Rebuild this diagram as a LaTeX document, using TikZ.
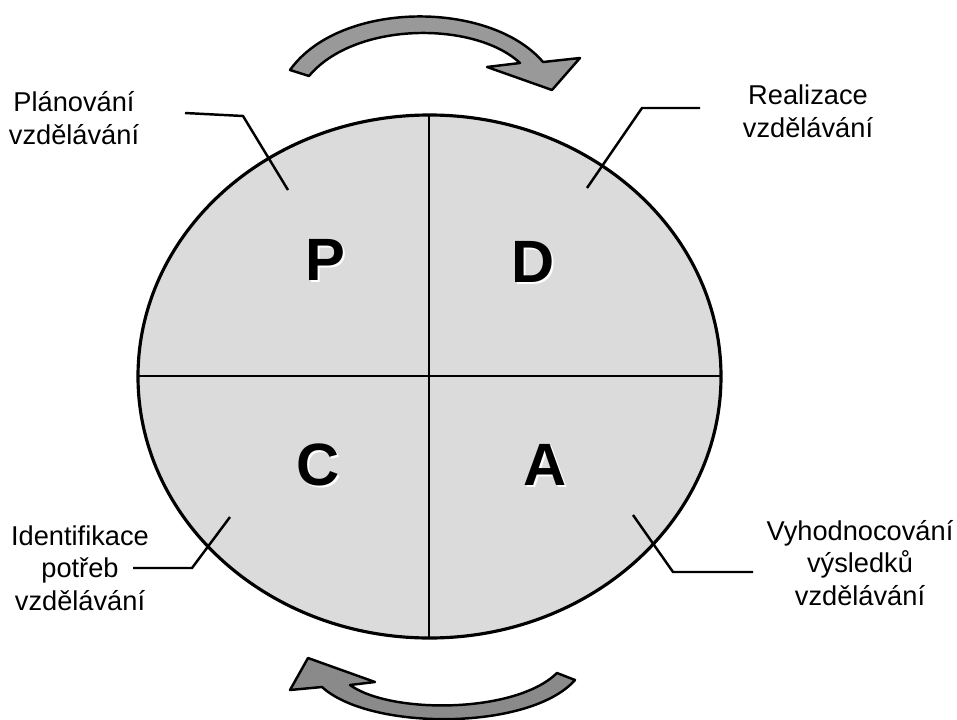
\documentclass[tikz,border=0pt]{standalone}
\usepackage{fontspec}
\setmainfont{Liberation Sans}
\usepackage{xcolor}
\usepackage{tikz}
\usetikzlibrary{positioning}
\usetikzlibrary{arrows,shapes}

\definecolor{quadfill}{gray}{0.86}
\definecolor{arrowtop}{gray}{0.60}
\definecolor{arrowbot}{gray}{0.54}

\tikzset{
  phase/.style={font=\fontsize{34}{40}\selectfont\bfseries, inner sep=0pt},
  phaseshadow/.style={phase, text=white},
  caption/.style={font=\fontsize{15.5}{18.6}\selectfont, align=center, inner sep=0pt},
  leader/.style={line width=1.4pt},
  cyclearrow/.style={line width=1.4pt, line join=round}
}

\begin{document}
\begin{tikzpicture}[x=0.02cm,y=-0.02cm]
   \useasboundingbox (0,0) rectangle (957,720);
   % circle with quadrants
   \draw[fill=quadfill, line width=1.8pt] (429.5,376.5) ellipse (291.5 and 261.5);
   \draw[line width=1.3pt] (138,376) -- (721,376);
   \draw[line width=1.3pt] (429,115) -- (429,638);
   % phase letters
   \node[phaseshadow] at (327,262) {P};
   \node[phase] (p) at (325,260) {P};
   \node[phaseshadow] at (535,264) {D};
   \node[phase] (d) at (533,262) {D};
   \node[phaseshadow] at (320,467) {C};
   \node[phase] (c) at (318,465) {C};
   \node[phaseshadow] at (547,467) {A};
   \node[phase] (a) at (545,465) {A};
   % captions
   \node[caption] (plan) at (74,118) {Plánování\\vzdělávání};
   \node[caption] (real) at (808,111) {Realizace\\vzdělávání};
   \node[caption] (ident) at (80,568) {Identifikace\\potřeb\\vzdělávání};
   \node[caption] (vyhod) at (860,563) {Vyhodnocování\\výsledků\\vzdělávání};
   % leaders
   \coordinate (plan1) at (185,113);
   \coordinate (plan2) at (243,116);
   \coordinate (plan3) at (288,190);
   \coordinate (real1) at (700,108);
   \coordinate (real2) at (642,108);
   \coordinate (real3) at (587,188);
   \coordinate (ident1) at (133,568);
   \coordinate (ident2) at (192,568);
   \coordinate (ident3) at (230,517);
   \coordinate (vyhod1) at (753,572);
   \coordinate (vyhod2) at (673,572);
   \coordinate (vyhod3) at (633,515);
   \draw[leader] (plan1) -- (plan2) -- (plan3);
   \draw[leader] (real1) -- (real2) -- (real3);
   \draw[leader] (ident1) -- (ident2) -- (ident3);
   \draw[leader] (vyhod1) -- (vyhod2) -- (vyhod3);
   % cycle arrows
   \draw[cyclearrow, fill=arrowtop] (290,70) .. controls (340,0) and (490,0) .. (543,62)
      -- (580,58) -- (552,90) -- (487,67) -- (520,63)
      .. controls (475,21) and (355,21) .. (309,76) -- cycle;
   \draw[cyclearrow, fill=arrowbot] (575,680) .. controls (530,731) and (370,731) .. (322,687)
      -- (290,690) -- (308,658) -- (375,682) -- (350,685)
      .. controls (390,714) and (515,714) .. (557,673) -- cycle;
\end{tikzpicture}
\end{document}
